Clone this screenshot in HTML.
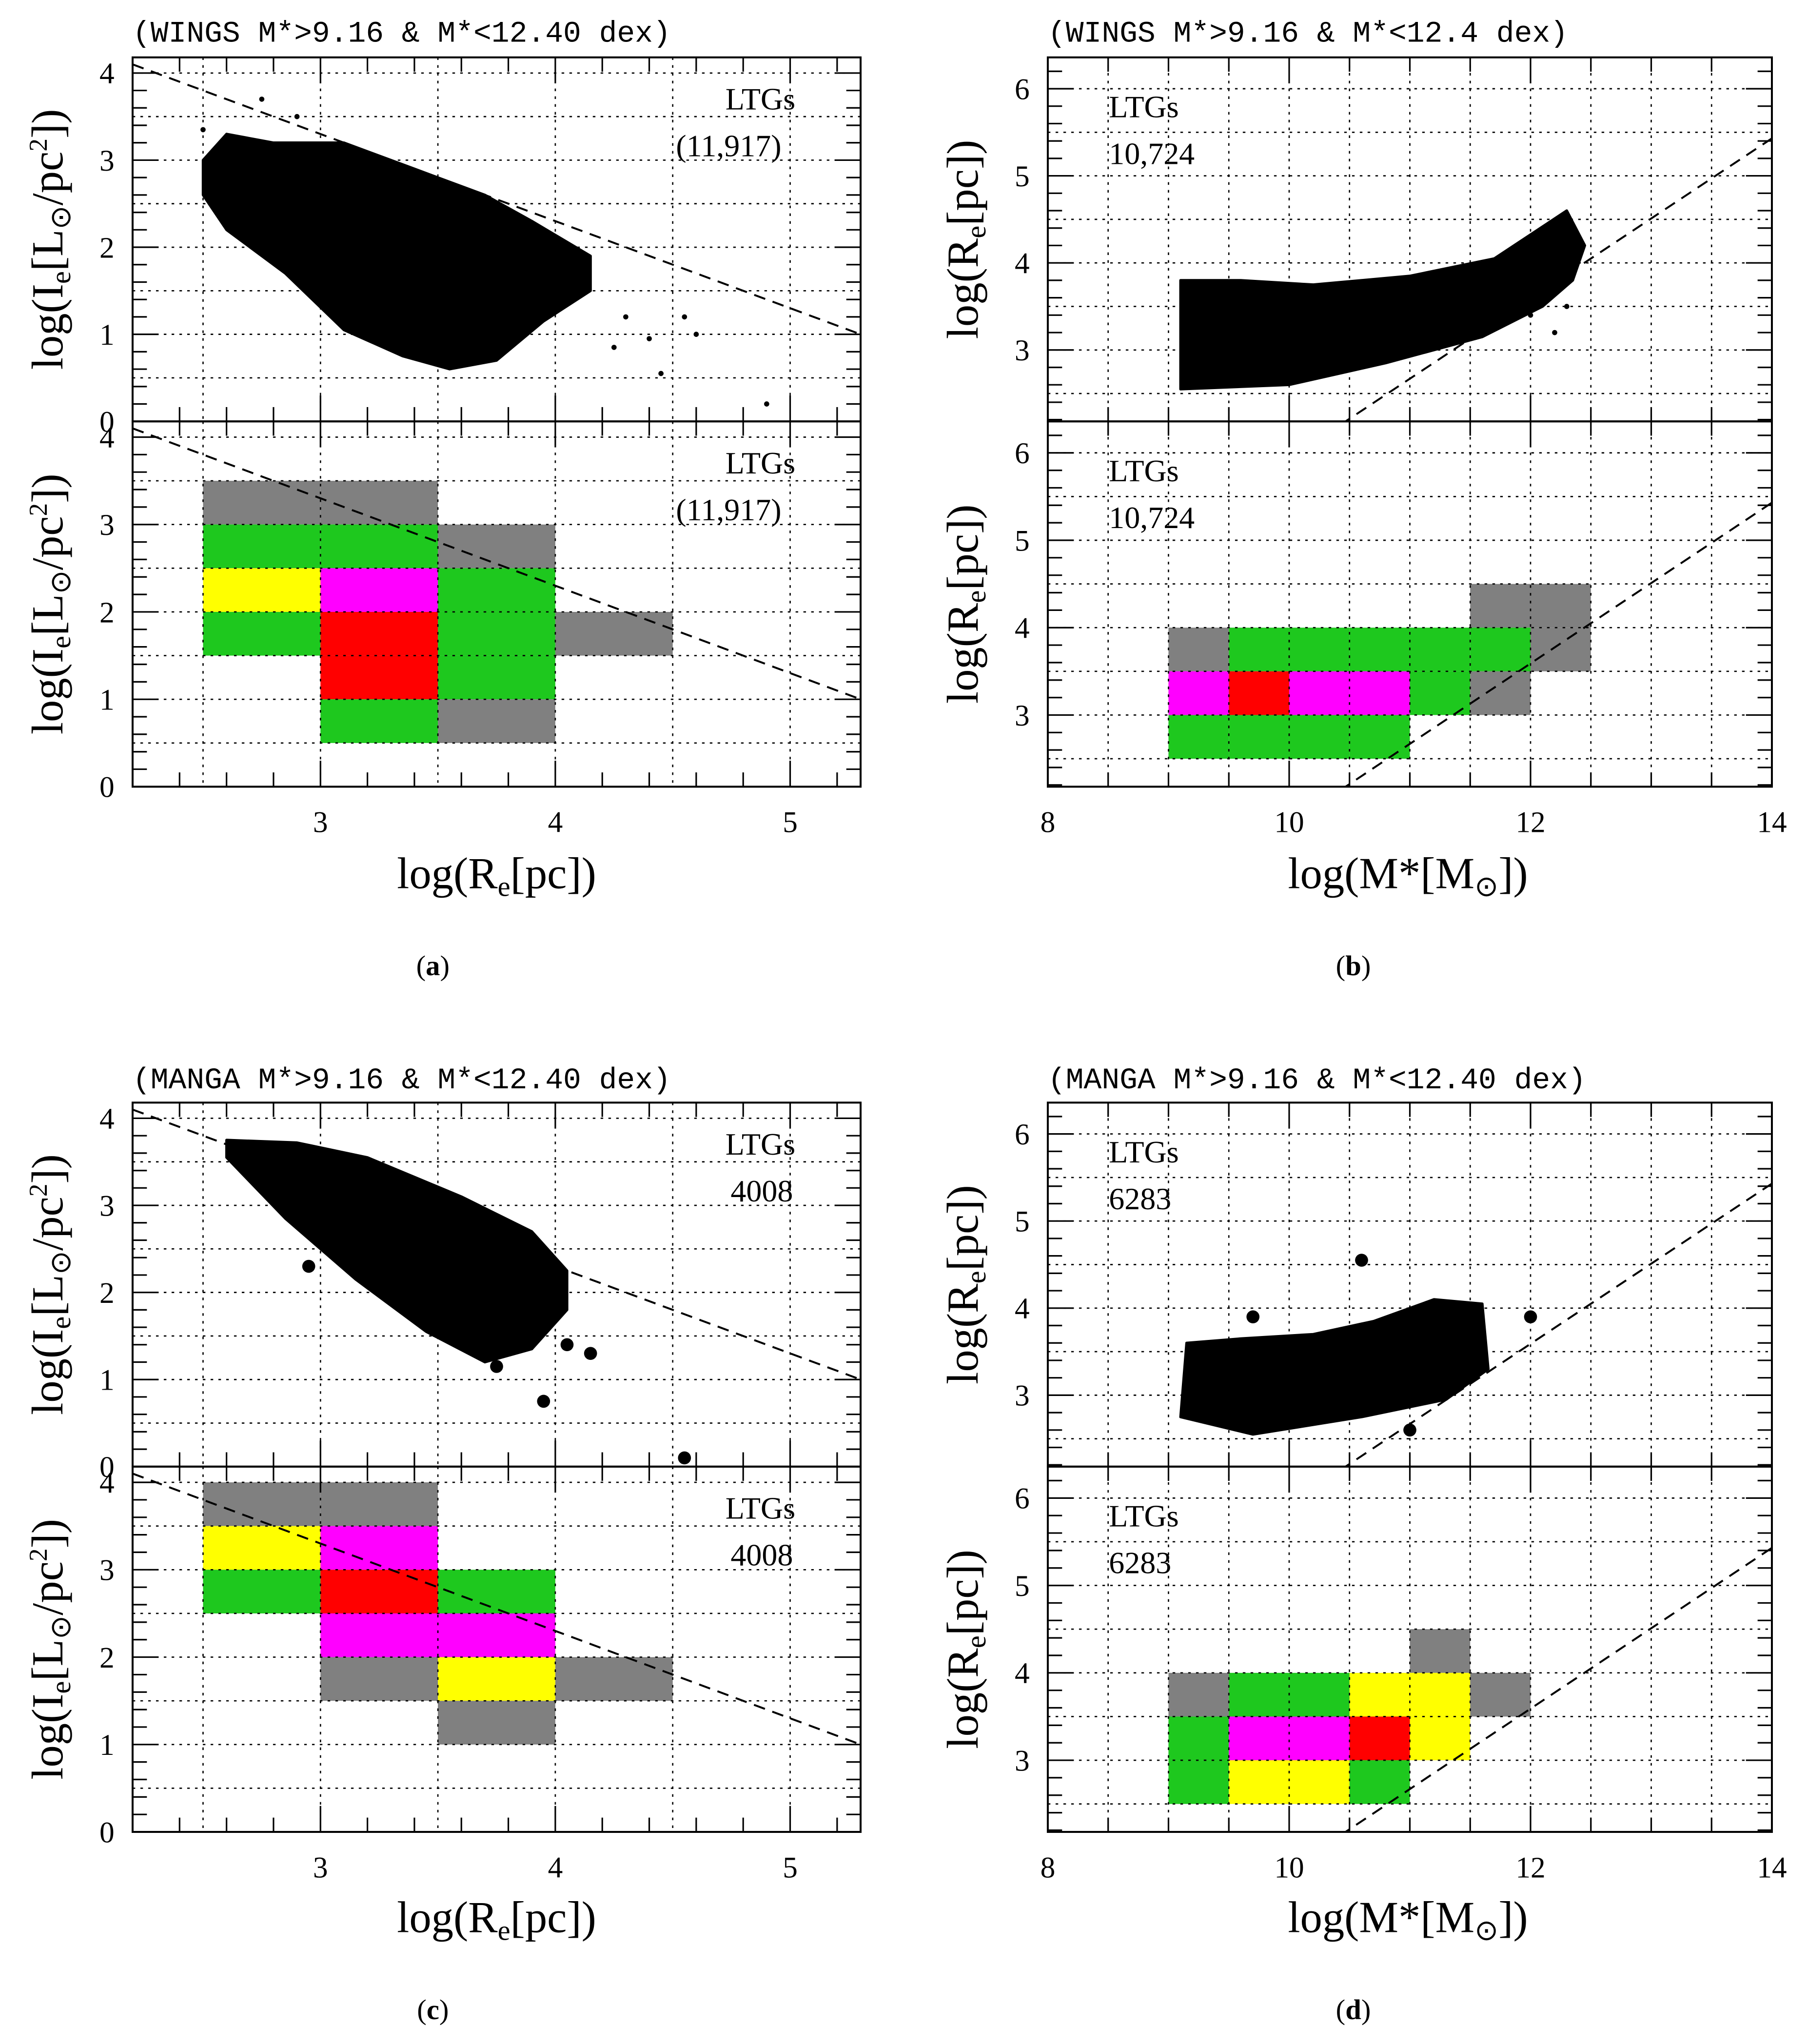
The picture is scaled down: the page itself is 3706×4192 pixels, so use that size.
<!DOCTYPE html>
<html><head><meta charset="utf-8">
<style>
html,body{margin:0;padding:0;background:#fff;}
svg{display:block;}
text{fill:#000;}
.tk{font-family:"Liberation Serif",serif;font-size:23px;}
.ax{font-family:"Liberation Serif",serif;font-size:34px;}
.ttl{font-family:"Liberation Mono",monospace;font-size:23px;}
.lab{font-family:"Liberation Serif",serif;font-size:24px;}
.cap{font-family:"Liberation Serif",serif;font-size:22px;}
</style></head>
<body>
<svg id="fig" width="3706" height="4192" viewBox="0 0 1390 1572" xmlns="http://www.w3.org/2000/svg"></svg>
<script>
// ---- data ----
const cloudA = [[2.5,3.0],[2.6,3.3],[2.8,3.2],[3.1,3.2],[3.4,2.9],[3.7,2.6],[3.9,2.3],[4.15,1.9],[4.15,1.5],[3.95,1.15],[3.75,0.7],[3.55,0.6],[3.35,0.75],[3.1,1.05],[2.85,1.7],[2.6,2.2],[2.5,2.6]];
const outA = [[4.3,1.2],[4.4,0.95],[4.45,0.55],[4.55,1.2],[4.6,1.0],[4.9,0.2],[4.25,0.85],[2.9,3.5],[2.75,3.7],[2.5,3.35]];
const cloudB = [[9.1,2.55],[9.1,3.8],[9.6,3.8],[10.2,3.75],[11.0,3.85],[11.7,4.05],[12.3,4.6],[12.45,4.2],[12.35,3.8],[12.1,3.5],[11.6,3.15],[10.8,2.85],[10.0,2.6]];
const outB = [[12.2,3.2],[12.0,3.4],[12.3,3.5]];
const cloudC = [[2.6,3.75],[2.9,3.72],[3.2,3.55],[3.6,3.1],[3.9,2.7],[4.05,2.25],[4.05,1.8],[3.9,1.35],[3.7,1.2],[3.45,1.55],[3.15,2.15],[2.85,2.85],[2.6,3.55]];
const outC = [[4.15,1.3],[4.05,1.4],[3.95,0.75],[4.55,0.1],[2.95,2.3],[3.75,1.15]];
const cloudD = [[9.1,2.75],[9.15,3.6],[9.6,3.65],[10.2,3.7],[10.7,3.85],[11.2,4.1],[11.6,4.05],[11.65,3.3],[11.3,2.95],[10.6,2.75],[9.7,2.55]];
const outD = [[10.6,4.55],[9.7,3.9],[12.0,3.9],[11.0,2.6]];
// histogram cells: [xlo, ylo, colour]
const histA = [[2.5,3,'g'],[3,3,'g'],[2.5,2.5,'G'],[3,2.5,'G'],[3.5,2.5,'g'],[2.5,2,'Y'],[3,2,'M'],[3.5,2,'G'],[2.5,1.5,'G'],[3,1.5,'R'],[3.5,1.5,'G'],[4,1.5,'g'],[3,1,'R'],[3.5,1,'G'],[3,0.5,'G'],[3.5,0.5,'g']];
const histB = [[11.5,4,'g'],[12,4,'g'],[9,3.5,'g'],[9.5,3.5,'G'],[10,3.5,'G'],[10.5,3.5,'G'],[11,3.5,'G'],[11.5,3.5,'G'],[12,3.5,'g'],[9,3,'M'],[9.5,3,'R'],[10,3,'M'],[10.5,3,'M'],[11,3,'G'],[11.5,3,'g'],[9,2.5,'G'],[9.5,2.5,'G'],[10,2.5,'G'],[10.5,2.5,'G']];
const histC = [[2.5,3.5,'g'],[3,3.5,'g'],[2.5,3,'Y'],[3,3,'M'],[2.5,2.5,'G'],[3,2.5,'R'],[3.5,2.5,'G'],[3,2,'M'],[3.5,2,'M'],[3,1.5,'g'],[3.5,1.5,'Y'],[4,1.5,'g'],[3.5,1,'g']];
const histD = [[11,4,'g'],[9,3.5,'g'],[9.5,3.5,'G'],[10,3.5,'G'],[10.5,3.5,'Y'],[11,3.5,'Y'],[11.5,3.5,'g'],[9,3,'G'],[9.5,3,'M'],[10,3,'M'],[10.5,3,'R'],[11,3,'Y'],[9,2.5,'G'],[9.5,2.5,'Y'],[10,2.5,'Y'],[10.5,2.5,'G']];
const colors = {g:'#808080',G:'#1ec81e',Y:'#ffff00',M:'#ff00ff',R:'#ff0000'};
const xticksR = [3,4,5];
const yticksI = [0,1,2,3,4];
const xticksM = [8,10,12,14];
const yticksR = [3,4,5,6];
// dashed line: y = a*x + b
const lineI = [-1.0, 6.3];
const lineR = [0.92, -7.45];

const NS = 'http://www.w3.org/2000/svg';
const svg = document.getElementById('fig');
function mk(tag, attrs, parent){const e=document.createElementNS(NS,tag);for(const k in attrs)e.setAttribute(k,attrs[k]);(parent||svg).appendChild(e);return e;}

function panel(cfg){
  const {px0,px1,py0,py1,xmin,xmax,ymin,ymax,name} = cfg;
  const g = mk('g',{});
  
  
  const X = v => px0 + (v-xmin)/(xmax-xmin)*(px1-px0);
  const Y = v => py1 - (v-ymin)/(ymax-ymin)*(py1-py0);
  const clip = 'c'+name;
  const cp = mk('clipPath',{id:clip},g); mk('rect',{x:px0,y:py0,width:px1-px0,height:py1-py0},cp);
  const inner = mk('g',{'clip-path':'url(#'+clip+')'},g);
  if(cfg.hist){ cfg.hist.forEach(c=>{
    const r = mk('rect',{x:X(c[0]),y:Y(c[1]+0.5),width:X(c[0]+0.5)-X(c[0]),height:Y(c[1])-Y(c[1]+0.5),fill:colors[c[2]]},inner);
    
    
  });}
  for(let v=Math.ceil(xmin*2)/2; v<xmax; v+=0.5){ if(v<=xmin) continue;
    mk('line',{x1:X(v),x2:X(v),y1:py0,y2:py1,stroke:'#000','stroke-width':1,'stroke-dasharray':'2,4'},inner);}
  for(let v=Math.ceil(ymin*2)/2; v<ymax; v+=0.5){ if(v<=ymin) continue;
    mk('line',{x1:px0,x2:px1,y1:Y(v),y2:Y(v),stroke:'#000','stroke-width':1,'stroke-dasharray':'2,4'},inner);}
  if(cfg.cloud){
    const p = mk('polygon',{points:cfg.cloud.map(p=>X(p[0])+','+Y(p[1])).join(' '),fill:'#000',stroke:'#000','stroke-width':2,'stroke-linejoin':'round'},inner);
    
    
    cfg.out.forEach(p=>{const c=mk('circle',{cx:X(p[0]),cy:Y(p[1]),r:cfg.r,fill:'#000'},inner);
      
      });
  }
  const L = cfg.line;
  const dl = mk('line',{x1:X(xmin),y1:Y(L[0]*xmin+L[1]),x2:X(xmax),y2:Y(L[0]*xmax+L[1]),stroke:'#000','stroke-width':1.5,'stroke-dasharray':'9,6'},inner);
  
  
  for(let v=Math.ceil(xmin*5)/5; v<xmax; v+=cfg.xminor){
    const maj = Math.abs(v-Math.round(v/cfg.xmajor)*cfg.xmajor)<1e-6; const len = maj?20:11;
    mk('line',{x1:X(v),x2:X(v),y1:py1,y2:py1-len,stroke:'#000','stroke-width':1.2},g);
    mk('line',{x1:X(v),x2:X(v),y1:py0,y2:py0+len,stroke:'#000','stroke-width':1.2},g);}
  for(let v=Math.ceil(ymin*5)/5; v<ymax; v+=0.2){
    const maj = Math.abs(v-Math.round(v))<1e-6; const len = maj?20:11;
    mk('line',{x1:px0,x2:px0+len,y1:Y(v),y2:Y(v),stroke:'#000','stroke-width':1.2},g);
    mk('line',{x1:px1,x2:px1-len,y1:Y(v),y2:Y(v),stroke:'#000','stroke-width':1.2},g);}
  mk('rect',{x:px0,y:py0,width:px1-px0,height:py1-py0,fill:'none',stroke:'#000','stroke-width':1.5},g);
  cfg.yt.forEach(v=>{const t=mk('text',{x:px0-14,y:Y(v)+8,'text-anchor':'end',class:'tk'},g);t.textContent=v;
    
    });
  if(cfg.xt){cfg.xt.forEach(v=>{const t=mk('text',{x:X(v),y:py1+35,'text-anchor':'middle',class:'tk'},g);t.textContent=v;
    
    });}
  const l1=mk('text',{x:cfg.lx,y:py0+cfg.ly,class:'lab'},g);l1.textContent='LTGs';
  
  
  const l2=mk('text',{x:cfg.lx2,y:py0+cfg.ly+36,class:'lab'},g);l2.textContent=cfg.count;
  
  
  const cy=(py0+py1)/2;
  const yl=mk('text',{x:0,y:0,class:'ax','text-anchor':'middle',transform:'translate('+(px0-54)+','+cy+') rotate(-90)'},g);
  yl.innerHTML = cfg.ylab;
  
  
}

const IL = 'log(I<tspan font-size="22" dy="6">e</tspan><tspan dy="-6">[L</tspan><tspan font-size="22" dy="6">⊙</tspan><tspan dy="-6">/pc</tspan><tspan font-size="20" dy="-12">2</tspan><tspan dy="12">])</tspan>';
const RL = 'log(R<tspan font-size="22" dy="6">e</tspan><tspan dy="-6">[pc])</tspan>';
const ML = 'log(M*[M<tspan font-size="22" dy="6">⊙</tspan><tspan dy="-6">])</tspan>';

function grp(top, isR, cloud, out, hist, count, r, nm){
  const base = isR ? {px0:806,px1:1363,xmin:8,xmax:14,ymin:2.18,ymax:6.36,xt:xticksM,yt:yticksR,line:lineR,xminor:0.5,xmajor:2,ylab:RL,lx:853,lx2:853,ly:46}
                   : {px0:102,px1:662,xmin:2.2,xmax:5.3,ymin:0,ymax:4.18,xt:xticksR,yt:yticksI,line:lineI,xminor:0.2,xmajor:1,ylab:IL,lx:558,lx2:count.startsWith('(')?520:562,ly:40};
  panel(Object.assign({},base,{name:nm+'-top',py0:top,py1:top+280,cloud:cloud,out:out,r:r,count:count,xt:null}));
  panel(Object.assign({},base,{name:nm+'-bottom',py0:top+280,py1:top+561,hist:hist,count:count}));
}
grp(44,false,cloudA,outA,histA,'(11,917)',2,'panel-a');
grp(44,true,cloudB,outB,histB,'10,724',2,'panel-b');
grp(848,false,cloudC,outC,histC,'4008',5,'panel-c');
grp(848,true,cloudD,outD,histD,'6283',5,'panel-d');

function txt(x,y,s,cls,name,anchor,html){const t=mk('text',{x:x,y:y,class:cls,'text-anchor':anchor||'start'});
  if(html)t.innerHTML=s;else t.textContent=s;
  
  }
txt(102,32,'(WINGS M*>9.16 &amp; M*&lt;12.40 dex)','ttl','panel-a-title','start',true);
txt(806,32,'(WINGS M*>9.16 &amp; M*&lt;12.4 dex)','ttl','panel-b-title','start',true);
txt(102,837,'(MANGA M*>9.16 &amp; M*&lt;12.40 dex)','ttl','panel-c-title','start',true);
txt(806,837,'(MANGA M*>9.16 &amp; M*&lt;12.40 dex)','ttl','panel-d-title','start',true);
txt(382,683,RL,'ax','x-axis-title-a','middle',true);
txt(1083,683,ML,'ax','x-axis-title-b','middle',true);
txt(382,1486,RL,'ax','x-axis-title-c','middle',true);
txt(1083,1486,ML,'ax','x-axis-title-d','middle',true);
txt(333,750,'(<tspan font-weight="bold">a</tspan>)','cap','caption-a','middle',true);
txt(1041,750,'(<tspan font-weight="bold">b</tspan>)','cap','caption-b','middle',true);
txt(333,1553,'(<tspan font-weight="bold">c</tspan>)','cap','caption-c','middle',true);
txt(1041,1553,'(<tspan font-weight="bold">d</tspan>)','cap','caption-d','middle',true);
</script>
</body></html>
